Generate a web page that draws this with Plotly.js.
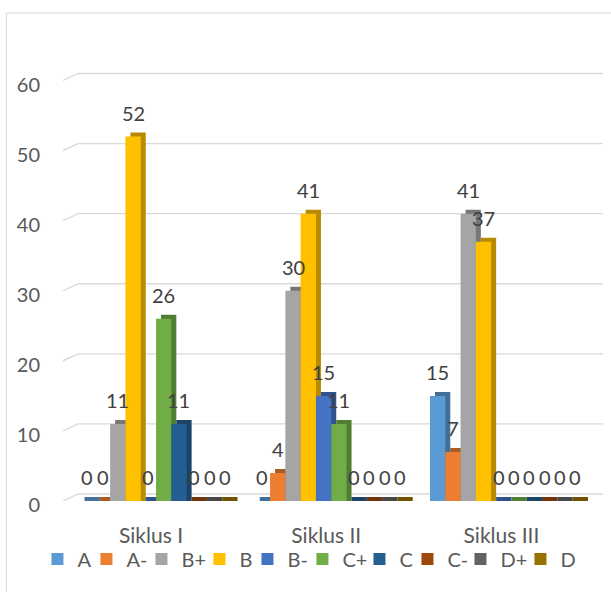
<!DOCTYPE html>
<html>
<head>
<meta charset="utf-8">
<script src="https://cdn.plot.ly/plotly-3.0.1.min.js"></script>
<style>html,body{margin:0;padding:0;background:#fff;}#chart{width:611px;height:592px;}</style>
</head>
<body>
<div id="chart"></div>
<script>
// ---- data ----
var categories = ['Siklus I', 'Siklus II', 'Siklus III'];
var seriesNames = ['A', 'A-', 'B+', 'B', 'B-', 'C+', 'C', 'C-', 'D+', 'D'];
var valuesA      = [0, 0, 15];
var valuesAminus = [0, 4, 7];
var valuesBplus  = [11, 30, 41];
var valuesB      = [52, 41, 37];
var valuesBminus = [0, 15, 0];
var valuesCplus  = [26, 11, 0];
var valuesC      = [11, 0, 0];
var valuesCminus = [0, 0, 0];
var valuesDplus  = [0, 0, 0];
var valuesD      = [0, 0, 0];
var yTicks = [0, 10, 20, 30, 40, 50, 60];

var seriesValues = [valuesA, valuesAminus, valuesBplus, valuesB, valuesBminus,
                    valuesCplus, valuesC, valuesCminus, valuesDplus, valuesD];

// ---- styles ----
var colors = ['#5B9BD5', '#ED7D31', '#A5A5A5', '#FFC000', '#4472C4',
              '#70AD47', '#255E91', '#9E480E', '#636363', '#997300'];
var legendWidths = [4, 10, 13, 3, 10, 12, 3, 8, 15, 14];
function darken(hex, f) {
  var r = parseInt(hex.substr(1, 2), 16), g = parseInt(hex.substr(3, 2), 16), b = parseInt(hex.substr(5, 2), 16);
  return 'rgb(' + Math.round(r * f) + ',' + Math.round(g * f) + ',' + Math.round(b * f) + ')';
}
var FONT = 'Lato, "Open Sans", sans-serif';
var slot = 0.0873;            // bar width in category units
var groupStart = -5 * slot;   // offset of first bar
var depthX = 0.0285;          // 3D side offset (category units)
var depthY = 0.57;            // 3D top offset (value units)

var traces = [];
var annotations = [];
for (var k = 0; k < seriesNames.length; k++) {
  var vals = seriesValues[k];
  var off = groupStart + k * slot;
  // depth (side/top face)
  traces.push({
    type: 'bar', x: categories,
    y: vals.map(function (v) { return v + depthY; }),
    base: 0, offset: off + depthX, width: slot,
    marker: { color: darken(colors[k], 0.72) },
    showlegend: false, hoverinfo: 'skip'
  });
  // front face
  traces.push({
    type: 'bar', name: seriesNames[k], x: categories, y: vals,
    offset: off, width: slot,
    marker: { color: colors[k] },
    legendwidth: legendWidths[k],
    hovertemplate: '%{x}<br>' + seriesNames[k] + ': %{y}<extra></extra>'
  });
  for (var i = 0; i < categories.length; i++) {
    annotations.push({
      xref: 'x', yref: 'y', x: i + off + slot / 2, y: vals[i],
      text: String(vals[i]), showarrow: false, yshift: 24,
      font: { family: FONT, size: 20, color: '#404040' }
    });
  }
}

var gridLeft = -0.445;
var shapes = [];
yTicks.forEach(function (v) {
  shapes.push({ type: 'line', xref: 'x', yref: 'y', x0: gridLeft, x1: 2.551, y0: v + 1, y1: v + 1,
    line: { color: '#D9D9D9', width: 1.3 }, layer: 'below' });
  shapes.push({ type: 'line', xref: 'x', yref: 'y', x0: -0.531, x1: gridLeft, y0: v, y1: v + 1,
    line: { color: '#D9D9D9', width: 1.3 }, layer: 'below' });
});
// chart area border
shapes.push({ type: 'rect', xref: 'paper', yref: 'paper',
  x0: -0.1046, x1: 1.03, y0: -0.25, y1: 1.1325,
  line: { color: '#D9D9D9', width: 1 }, fillcolor: 'rgba(0,0,0,0)', layer: 'below' });

var layout = {
  width: 611, height: 592,
  margin: { l: 63, r: 8, t: 69.5, b: 91 },
  paper_bgcolor: '#ffffff', plot_bgcolor: 'rgba(0,0,0,0)',
  barmode: 'overlay',
  font: { family: FONT, color: '#595959', size: 20 },
  xaxis: {
    type: 'category', range: [-0.531, 2.551], showgrid: false, zeroline: false,
    showline: false, ticks: '', tickfont: { family: FONT, size: 21, color: '#595959' },
    ticklabelstandoff: 20, ticklabelshift: -5, fixedrange: true
  },
  yaxis: {
    range: [0, 61.5], tickvals: yTicks, showgrid: false, zeroline: false, showline: false,
    ticks: '', tickfont: { family: FONT, size: 20, color: '#595959' },
    ticklabelstandoff: 22, ticklabelshift: 4, fixedrange: true
  },
  showlegend: true,
  legend: {
    orientation: 'h', xref: 'container', yref: 'container', x: 0.0613, xanchor: 'left',
    y: 0.0557, yanchor: 'middle', font: { family: FONT, size: 20, color: '#595959' },
    bgcolor: 'rgba(0,0,0,0)', traceorder: 'normal'
  },
  annotations: annotations,
  shapes: shapes
};

Plotly.newPlot('chart', traces, layout, { displayModeBar: false, staticPlot: true });
</script>
</body>
</html>
